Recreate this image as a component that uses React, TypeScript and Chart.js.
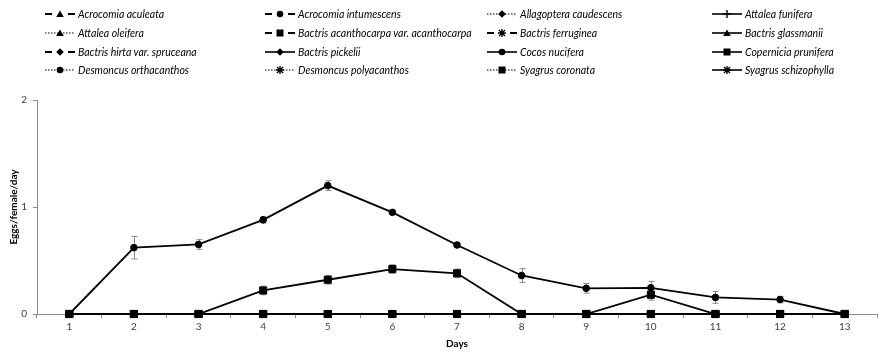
import React, { useEffect, useRef } from "react";
import { Chart, registerables } from "chart.js";

Chart.register(...registerables);

const days = ["1", "2", "3", "4", "5", "6", "7", "8", "9", "10", "11", "12", "13"];

const speciesNames = [
  "Acrocomia aculeata",
  "Acrocomia intumescens",
  "Allagoptera caudescens",
  "Attalea funifera",
  "Attalea oleifera",
  "Bactris acanthocarpa var. acanthocarpa",
  "Bactris ferruginea",
  "Bactris glassmanii",
  "Bactris hirta var. spruceana",
  "Bactris pickelii",
  "Cocos nucifera",
  "Copernicia prunifera",
  "Desmoncus orthacanthos",
  "Desmoncus polyacanthos",
  "Syagrus coronata",
  "Syagrus schizophylla",
];

const lineKinds = [
  "dash", "dash", "dot", "solid",
  "dot", "dash", "dash", "solid",
  "dash", "solid", "solid", "solid",
  "dot", "dot", "dot", "solid",
];

const markerKinds = [
  "triangle", "circle", "diamond", "cross",
  "triangle", "square", "star", "triangle",
  "diamond", "diamond", "circle", "square",
  "circle", "star", "square", "star",
];

const zeroValues = [0, 0, 0, 0, 0, 0, 0, 0, 0, 0, 0, 0, 0];
const cocosValues = [0, 0.62, 0.65, 0.88, 1.2, 0.95, 0.645, 0.36, 0.24, 0.245, 0.155, 0.135, 0];
const cocosErrors = [0.01, 0.105, 0.045, 0.03, 0.045, 0.02, 0.02, 0.065, 0.045, 0.06, 0.055, 0.03, 0.01];
const coperniciaValues = [0, 0, 0, 0.22, 0.32, 0.42, 0.38, 0, 0, 0.18, 0, 0, 0];
const coperniciaErrors = [0, 0, 0, 0.04, 0.04, 0.04, 0.04, 0.02, 0.01, 0.05, 0.02, 0.02, 0.01];

const yTicks = [0, 1, 2];

const FONT = "Lato, 'Open Sans', sans-serif";

const dashFor = (k: string) => (k === "dash" ? [6, 3] : k === "dot" ? [1.5, 2] : []);
const pointStyleFor = (m: string) =>
  m === "square" ? "rect" : m === "diamond" ? "rectRot" : m === "star" ? "star" : m === "cross" ? "cross" : m === "triangle" ? "triangle" : "circle";
const radiusFor = (m: string) => (m === "square" ? 5 : m === "circle" ? 3.3 : m === "diamond" ? 3.8 : 4);

const errorBarPlugin = {
  id: "errorBars",
  beforeDatasetsDraw(chart: any) {
    const ctx = chart.ctx;
    const y = chart.scales.y;
    ctx.save();
    ctx.strokeStyle = "#8a8a8a";
    ctx.lineWidth = 1;
    chart.data.datasets.forEach((ds: any, i: number) => {
      if (!ds.errors) return;
      const meta = chart.getDatasetMeta(i);
      meta.data.forEach((pt: any, j: number) => {
        const v = ds.data[j];
        const e = ds.errors[j];
        if (!e) return;
        const x = Math.round(pt.x) + 0.5;
        const y1 = y.getPixelForValue(v + e);
        const y2 = y.getPixelForValue(Math.max(v - e, 0));
        ctx.beginPath();
        ctx.moveTo(x, y1);
        ctx.lineTo(x, y2);
        ctx.moveTo(x - 3, y1);
        ctx.lineTo(x + 3, y1);
        ctx.moveTo(x - 3, y2);
        ctx.lineTo(x + 3, y2);
        ctx.stroke();
      });
    });
    ctx.restore();
  },
};

function Marker({ kind }: { kind: string }) {
  const c = 15;
  const m = 5;
  switch (kind) {
    case "circle":
      return <circle cx={c} cy={m} r={3.3} fill="#000" />;
    case "square":
      return <rect x={c - 3.5} y={m - 3.5} width={7} height={7} fill="#000" />;
    case "triangle":
      return <polygon points={`${c},${m - 3.5} ${c + 3.8},${m + 3} ${c - 3.8},${m + 3}`} fill="#000" />;
    case "diamond":
      return <polygon points={`${c},${m - 3.8} ${c + 3.8},${m} ${c},${m + 3.8} ${c - 3.8},${m}`} fill="#000" />;
    case "cross":
      return <path d={`M${c},${m - 4} L${c},${m + 4} M${c - 4},${m} L${c + 4},${m}`} stroke="#000" strokeWidth={1.4} />;
    case "star":
      return (
        <path
          d={`M${c},${m - 4} L${c},${m + 4} M${c - 4},${m} L${c + 4},${m} M${c - 3},${m - 3} L${c + 3},${m + 3} M${c - 3},${m + 3} L${c + 3},${m - 3}`}
          stroke="#000"
          strokeWidth={1.4}
        />
      );
    default:
      return null;
  }
}

function LegendSymbol({ line, marker }: { line: string; marker: string }) {
  const dash = line === "dash" ? "6 3" : line === "dot" ? "1.5 1.5" : undefined;
  return (
    <svg width={30} height={10} style={{ display: "block" }}>
      {line === "dash" ? (
        <>
          <line x1={0} y1={5} x2={7} y2={5} stroke="#000" strokeWidth={2} />
          <line x1={23} y1={5} x2={30} y2={5} stroke="#000" strokeWidth={2} />
        </>
      ) : (
        <line x1={0} y1={5} x2={30} y2={5} stroke="#000" strokeWidth={line === "dot" ? 1.2 : 1.6} strokeDasharray={dash} />
      )}
      <Marker kind={marker} />
    </svg>
  );
}

const legendColX = [45, 265, 487, 712];
const legendRowY = [14, 33, 52, 70];

export default function App() {
  const ref = useRef<HTMLCanvasElement>(null);

  useEffect(() => {
    if (!ref.current) return;
    const topOrder = ["Cocos nucifera", "Copernicia prunifera", "Syagrus coronata"];
    const datasets = speciesNames.map((name, i) => {
      const isCocos = name === "Cocos nucifera";
      const isCop = name === "Copernicia prunifera";
      const mk = markerKinds[i];
      const ord = topOrder.indexOf(name);
      return {
        label: name,
        data: isCocos ? cocosValues : isCop ? coperniciaValues : zeroValues,
        errors: isCocos ? cocosErrors : isCop ? coperniciaErrors : null,
        borderColor: "#000",
        backgroundColor: "#000",
        borderWidth: isCocos || isCop ? 1.8 : 2.2,
        borderDash: dashFor(lineKinds[i]),
        pointStyle: pointStyleFor(mk),
        pointRadius: radiusFor(mk),
        pointBorderWidth: mk === "cross" || mk === "star" ? 1.4 : 1,
        pointBackgroundColor: "#000",
        pointBorderColor: "#000",
        tension: 0,
        clip: false,
        order: ord >= 0 ? ord : 3 + i,
      };
    });

    const chart = new Chart(ref.current, {
      type: "line",
      data: { labels: days, datasets: datasets as any },
      plugins: [errorBarPlugin],
      options: {
        animation: false,
        responsive: false,
        devicePixelRatio: 1,
        events: [],
        layout: { padding: { top: 100, right: 1, left: 0, bottom: 0 } },
        plugins: { legend: { display: false }, tooltip: { enabled: false } },
        scales: {
          x: {
            type: "category",
            offset: true,
            grid: {
              offset: true,
              drawOnChartArea: false,
              drawTicks: true,
              tickLength: 4,
              tickColor: "#8c8c8c",
            },
            border: { color: "#8c8c8c", width: 1 },
            ticks: {
              color: "#404040",
              font: { family: FONT, size: 10 },
              padding: 3,
              maxRotation: 0,
              autoSkip: false,
            },
            title: {
              display: true,
              text: "Days",
              color: "#000",
              font: { family: FONT, size: 10, weight: "bold" },
              padding: { top: 0, bottom: 2 },
            },
            afterFit: (s: any) => {
              s.height = 38;
            },
          },
          y: {
            min: 0,
            max: 2,
            afterBuildTicks: (s: any) => {
              s.ticks = yTicks.map((v) => ({ value: v }));
            },
            grid: {
              drawOnChartArea: false,
              drawTicks: true,
              tickLength: 4,
              tickColor: "#8c8c8c",
            },
            border: { color: "#8c8c8c", width: 1 },
            ticks: {
              color: "#404040",
              font: { family: FONT, size: 10 },
              padding: 6,
            },
            title: {
              display: true,
              text: "Eggs/female/day",
              color: "#000",
              font: { family: FONT, size: 10, weight: "bold" },
              padding: { top: 8, bottom: 0 },
            },
            afterFit: (s: any) => {
              s.width = 37;
            },
          },
        },
      } as any,
    });
    return () => chart.destroy();
  }, []);

  return (
    <div style={{ position: "absolute", left: 0, top: 0, width: 883, height: 352, background: "#fff" }}>
      <canvas ref={ref} width={883} height={352} style={{ position: "absolute", left: 0, top: 0 }} />
      {speciesNames.map((name, i) => {
        const col = i % 4;
        const row = Math.floor(i / 4);
        return (
          <div
            key={name}
            style={{
              position: "absolute",
              left: legendColX[col],
              top: legendRowY[row] - 7,
              height: 14,
              display: "flex",
              alignItems: "center",
              gap: 3,
              fontFamily: FONT,
              fontStyle: "italic",
              fontSize: 10.5,
              color: "#000",
              whiteSpace: "nowrap",
            }}
          >
            <LegendSymbol line={lineKinds[i]} marker={markerKinds[i]} />
            <span>{name}</span>
          </div>
        );
      })}
    </div>
  );
}
